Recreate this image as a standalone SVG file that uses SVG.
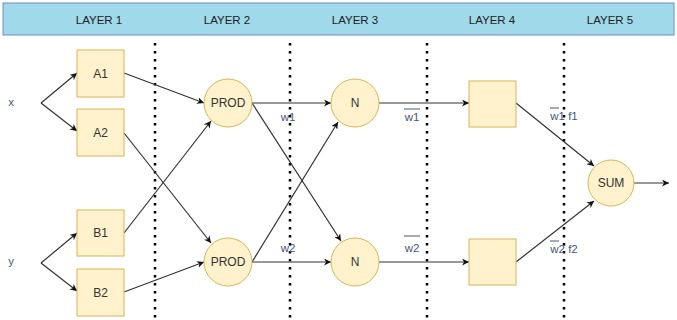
<svg xmlns="http://www.w3.org/2000/svg" width="677" height="320" viewBox="0 0 677 320">
  <style>
    text { font-family: "Liberation Sans", Arial, sans-serif; }
    .hdr { font-size: 11.5px; fill: #222; text-anchor: middle; }
    .lbl { font-size: 12px; fill: #333; text-anchor: middle; dominant-baseline: central; }
    .sig { font-size: 11.5px; fill: #46587a; text-anchor: middle; dominant-baseline: central; }
    .box { fill: #fff2cc; stroke: #d6b656; stroke-width: 1; }
    .edge { fill: none; stroke: #333; stroke-width: 1.2; marker-end: url(#arrow); }
    .sep { stroke: #000; stroke-width: 2.5; stroke-dasharray: 2.5 5.5; }
    .bar { stroke: #46587a; stroke-width: 1; }
  </style>
  <defs>
    <marker id="arrow" viewBox="0 0 10 10" refX="10" refY="5" markerWidth="7" markerHeight="7" markerUnits="userSpaceOnUse" orient="auto">
      <path d="M0,0 L10,5 L0,10 L3,5 Z" fill="#111"/>
    </marker>
  </defs>

  <!-- header band -->
  <g id="header">
    <rect x="3" y="3" width="671" height="32" fill="#9fd9ea" stroke="#6c8ebf" stroke-width="1"/>
    <text class="hdr" x="99" y="24">LAYER 1</text>
    <text class="hdr" x="227" y="24">LAYER 2</text>
    <text class="hdr" x="355" y="24">LAYER 3</text>
    <text class="hdr" x="492" y="24">LAYER 4</text>
    <text class="hdr" x="610" y="24">LAYER 5</text>
  </g>

  <!-- layer separators -->
  <g id="separators">
    <line class="sep" x1="155" y1="43" x2="155" y2="320"/>
    <line class="sep" x1="290" y1="43" x2="290" y2="320"/>
    <line class="sep" x1="427" y1="43" x2="427" y2="320"/>
    <line class="sep" x1="564" y1="43" x2="564" y2="320"/>
  </g>

  <!-- connectors -->
  <g id="connectors">
    <polyline class="edge" points="41,103 77,73"/>
    <polyline class="edge" points="41,103 77,131"/>
    <polyline class="edge" points="41,263 77,233"/>
    <polyline class="edge" points="41,263 77,291"/>
    <polyline class="edge" points="124,73 204,103"/>
    <polyline class="edge" points="124,133 211,243"/>
    <polyline class="edge" points="124,233 211,121"/>
    <polyline class="edge" points="124,292 204,262"/>
    <polyline class="edge" points="252,103 331,103"/>
    <polyline class="edge" points="252,103 341,241"/>
    <polyline class="edge" points="252,262 338,122"/>
    <polyline class="edge" points="252,262 331,262"/>
    <polyline class="edge" points="379,103 469,103"/>
    <polyline class="edge" points="379,262 469,262"/>
    <polyline class="edge" points="516,103 594,166"/>
    <polyline class="edge" points="516,262 594,201"/>
    <polyline class="edge" points="634,183 669,183"/>
  </g>

  <!-- inputs -->
  <g id="input-x"><text class="sig" x="11" y="102">x</text></g>
  <g id="input-y"><text class="sig" x="11" y="261">y</text></g>

  <!-- layer 1 -->
  <g id="A1"><rect class="box" x="77" y="50" width="47" height="47"/><text class="lbl" x="100.5" y="73.5">A1</text></g>
  <g id="A2"><rect class="box" x="77" y="109" width="47" height="47"/><text class="lbl" x="100.5" y="132.5">A2</text></g>
  <g id="B1"><rect class="box" x="77" y="210" width="47" height="46"/><text class="lbl" x="100.5" y="233">B1</text></g>
  <g id="B2"><rect class="box" x="77" y="269" width="47" height="47"/><text class="lbl" x="100.5" y="292.5">B2</text></g>

  <!-- layer 2 -->
  <g id="PROD1"><circle class="box" cx="228" cy="103" r="24"/><text class="lbl" x="228" y="103">PROD</text></g>
  <g id="PROD2"><circle class="box" cx="228" cy="262" r="24"/><text class="lbl" x="228" y="262">PROD</text></g>

  <!-- layer 3 -->
  <g id="N1"><circle class="box" cx="355" cy="103" r="24"/><text class="lbl" x="355" y="103">N</text></g>
  <g id="N2"><circle class="box" cx="355" cy="262" r="24"/><text class="lbl" x="355" y="262">N</text></g>

  <!-- layer 4 -->
  <g id="F1"><rect class="box" x="469" y="81" width="47" height="46"/></g>
  <g id="F2"><rect class="box" x="469" y="239" width="47" height="46"/></g>

  <!-- layer 5 -->
  <g id="SUM"><circle class="box" cx="611" cy="183" r="23"/><text class="lbl" x="611" y="183">SUM</text></g>

  <!-- signal labels -->
  <g id="labels">
    <text class="sig" x="288" y="117">w1</text>
    <text class="sig" x="288" y="248">w2</text>
    <text class="sig" x="412" y="117">w1</text>
    <line class="bar" x1="404" y1="109" x2="420" y2="109"/>
    <text class="sig" x="412" y="248">w2</text>
    <line class="bar" x1="404" y1="236" x2="420" y2="236"/>
    <text class="sig" x="564" y="116">w1 f1</text>
    <line class="bar" x1="550" y1="108" x2="559" y2="108"/>
    <text class="sig" x="564" y="249">w2 f2</text>
    <line class="bar" x1="550" y1="241" x2="559" y2="241"/>
  </g>
</svg>
